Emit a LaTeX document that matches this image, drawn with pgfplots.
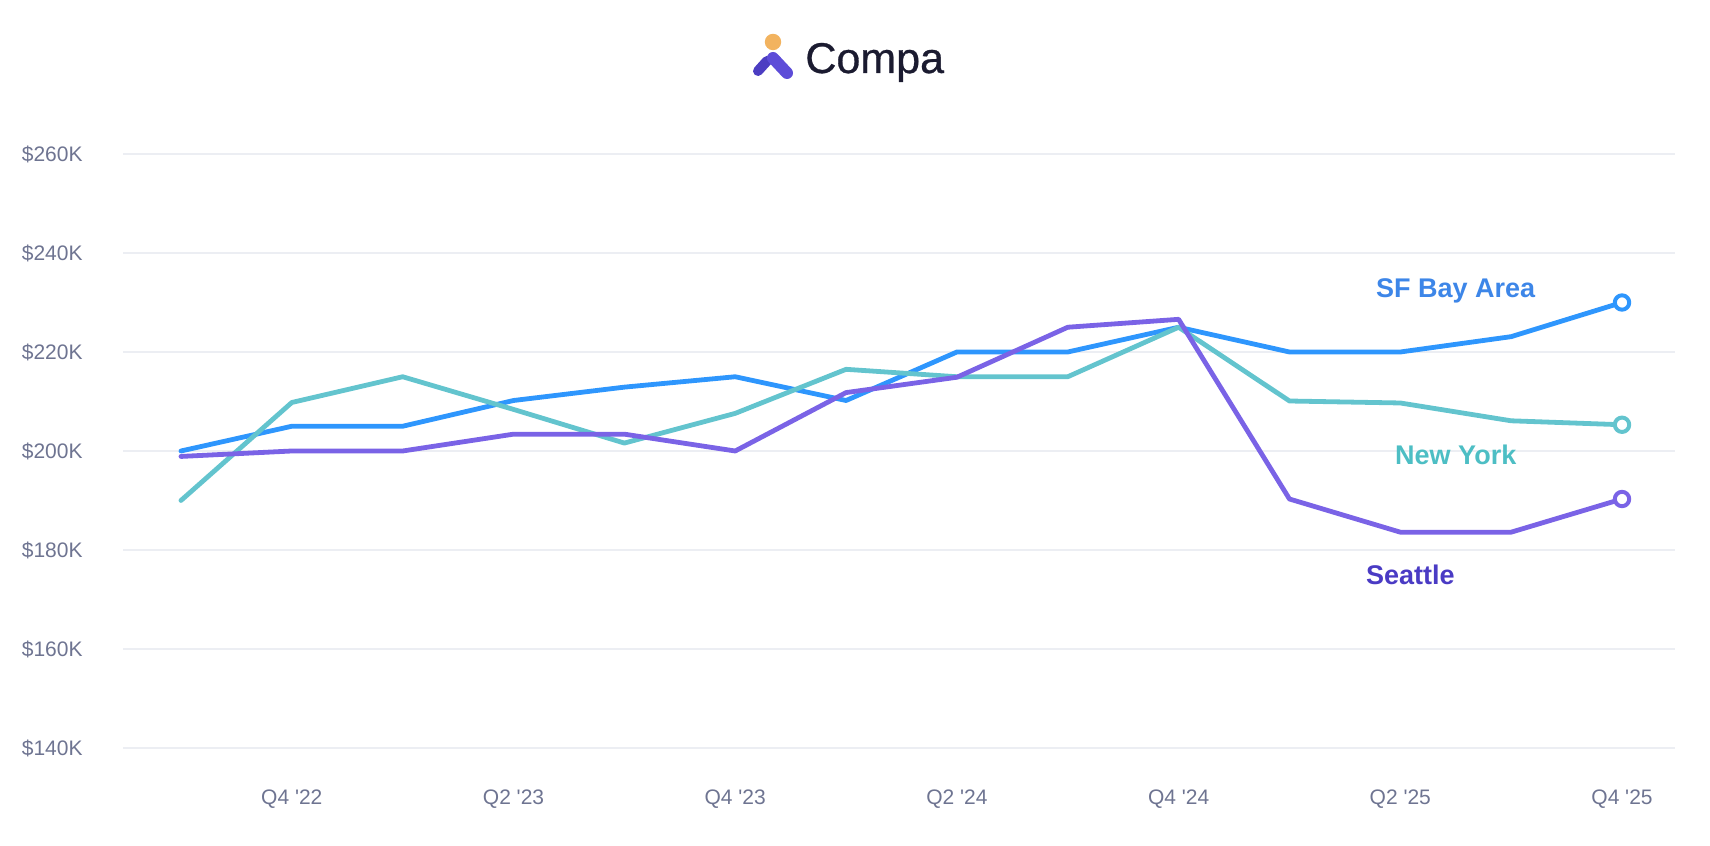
\documentclass[border=0pt]{standalone}
\usepackage{pgfplots}
\pgfplotsset{compat=1.18}
\usepackage{fontspec}
\setmainfont{Liberation Sans}
\newfontfamily\logofont{Liberation Sans}[FakeBold=0.7]
\definecolor{sfline}{HTML}{2E96FD}
\definecolor{sflabel}{HTML}{3D86E8}
\definecolor{nyline}{HTML}{63C4CE}
\definecolor{nylabel}{HTML}{4DBEC4}
\definecolor{sealine}{HTML}{7A63E6}
\definecolor{sealabel}{HTML}{4A3BC4}
\definecolor{tickc}{HTML}{6E7491}
\definecolor{gridc}{HTML}{ECEEF3}
\definecolor{logotext}{HTML}{1B1B30}
\definecolor{logodot}{HTML}{F2B35F}
\definecolor{logoA}{HTML}{4C3DC2}
\definecolor{logoB}{HTML}{5D4CD8}
\newcommand{\q}{\textquotesingle}
\begin{document}
\begin{tikzpicture}
\path (0,0) rectangle (855pt,423pt);
% logo
\fill[logodot] (386.5pt,402pt) circle (4.1pt);
\draw[logoA, line width=5pt, line cap=round] (379pt,387.5pt) -- (383.5pt,392.5pt);
\draw[logoB, line width=6pt, line cap=round] (386.5pt,394pt) -- (393.5pt,386.5pt);
\node[anchor=base west, inner sep=0pt, text=logotext, font=\logofont\fontsize{21.5}{24}\selectfont] at (402.5pt,386.5pt) {Compa};
\begin{axis}[
  at={(61.5pt,49pt)}, anchor=south west,
  scale only axis, width=776pt, height=297pt,
  xmin=-0.523, xmax=13.478, ymin=140, ymax=260,
  axis line style={draw=none}, tick style={draw=none},
  ymajorgrids, grid style={gridc, line width=1pt},
  ytick={140,160,180,200,220,240,260},
  yticklabels={\$140K,\$160K,\$180K,\$200K,\$220K,\$240K,\$260K},
  xtick={1,3,5,7,9,11,13},
  xticklabels={Q4 \q22,Q2 \q23,Q4 \q23,Q2 \q24,Q4 \q24,Q2 \q25,Q4 \q25},
  yticklabel style={anchor=east, inner sep=0pt, xshift=-20pt, text=tickc, font=\fontsize{10.5}{12}\selectfont},
  xticklabel style={anchor=base, inner sep=0pt, yshift=-28.2pt, text=tickc, font=\fontsize{10.5}{12}\selectfont},
  clip=false,
  every axis plot/.append style={line width=2.4pt, line join=round, line cap=round, mark=none},
]
\addplot[sfline] coordinates {(0,200) (1,205) (2,205) (3,210.2) (4,212.9) (5,215) (6,210.2) (7,220) (8,220) (9,225) (10,220) (11,220) (12,223.1) (13,230)};
\addplot[nyline] coordinates {(0,190) (1,209.8) (2,215) (3,208.4) (4,201.6) (5,207.6) (6,216.5) (7,215) (8,215) (9,225) (10,210.1) (11,209.7) (12,206.1) (13,205.3)};
\addplot[sealine] coordinates {(0,198.9) (1,200) (2,200) (3,203.4) (4,203.4) (5,200) (6,211.8) (7,214.9) (8,225) (9,226.6) (10,190.3) (11,183.6) (12,183.6) (13,190.3)};
\addplot[sfline, line width=2pt, mark=*, mark size=3.6pt, mark options={fill=white}, only marks] coordinates {(13,230)};
\addplot[nyline, line width=2pt, mark=*, mark size=3.6pt, mark options={fill=white}, only marks] coordinates {(13,205.3)};
\addplot[sealine, line width=2pt, mark=*, mark size=3.6pt, mark options={fill=white}, only marks] coordinates {(13,190.3)};
\node[anchor=base, inner sep=0pt, text=sflabel, font=\bfseries\fontsize{13.5}{15}\selectfont] at (axis cs:11.5,231.1) {SF Bay Area};
\node[anchor=base, inner sep=0pt, text=nylabel, font=\bfseries\fontsize{13.5}{15}\selectfont] at (axis cs:11.5,197.2) {New York};
\node[anchor=base, inner sep=0pt, text=sealabel, font=\bfseries\fontsize{13.5}{15}\selectfont] at (axis cs:11.09,173.1) {Seattle};
\end{axis}
\end{tikzpicture}
\end{document}
